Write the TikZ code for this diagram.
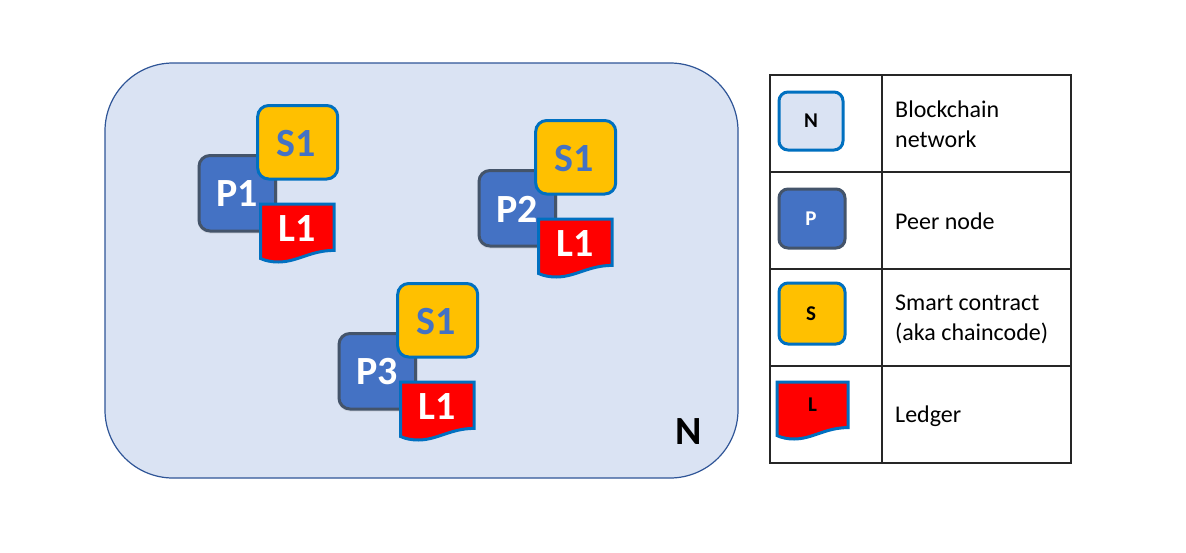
\documentclass[tikz,border=0pt]{standalone}
\usepackage{fontspec}
\setmainfont{Carlito}
\definecolor{netfill}{HTML}{DAE3F3}
\definecolor{netline}{HTML}{2F5597}
\definecolor{peerfill}{HTML}{4472C4}
\definecolor{peerline}{HTML}{44546A}
\definecolor{smart}{HTML}{FFC000}
\definecolor{bluel}{HTML}{0070C0}
\tikzset{
  x=1pt,y=-1pt,
  netbox/.style={draw=netline,fill=netfill,line width=1.2pt},
  peerbox/.style={draw=peerline,fill=peerfill,line width=3pt},
  smartbox/.style={draw=bluel,fill=smart,line width=3pt},
  ledgerbox/.style={draw=bluel,fill=red,line width=3pt,line join=miter},
  shade1/.style={draw=black!35,line width=3pt,opacity=.25},
  biglabel/.style={font=\bfseries\fontsize{40}{40}\selectfont,inner sep=0pt,anchor=center},
  smalllabel/.style={font=\bfseries\fontsize{21}{21}\selectfont,inner sep=0pt,anchor=center},
  legendtext/.style={font=\fontsize{24}{30}\selectfont,align=left,anchor=west,inner sep=0pt},
  gridline/.style={draw=black!85,line width=1.8pt},
}
\newcommand{\ledgershape}[4]{% x, y, w, h
  \begin{scope}[shift={(#1,#2)},x=#3pt,y=-#4pt]
  \path[ledgerbox] (0,0) -- (1,0) -- (1,.8)
    .. controls (.68,.8) and (.5,1) .. (.24,1)
    .. controls (.15,1) and (.07,.98) .. (0,.94)
    -- cycle;
  \end{scope}
}
\newcommand{\peergroup}[7]{% dx, dy, name, P, S, L, extra dx of S and L
  \begin{scope}[shift={(#1,#2)}]
    \draw[shade1,rounded corners=11pt] (199,157) rectangle (276,232);
    \draw[peerbox,rounded corners=11pt] (199,155.5) rectangle (275.5,231);
    \node[biglabel,text=white] (p#3) at (237,194) {#4};
    \draw[smartbox,rounded corners=11pt] (257.7+#7,105.5) rectangle (337.7+#7,179);
    \node[biglabel,text=peerfill] (s#3) at (296.5+#7,144) {#5};
    \ledgershape{260.6+#7}{204}{73.5}{58}
    \node[biglabel,text=white] (l#3) at (297+#7,228.5) {#6};
  \end{scope}
}
\begin{document}
\begin{tikzpicture}
\useasboundingbox (0,0) rectangle (1186,552);
\fill[white] (0,0) rectangle (1186,552);
\draw[netbox,rounded corners=68pt] (105,63) rectangle (738,478);
\node[font=\bfseries\fontsize{40}{40}\selectfont,inner sep=0pt] (netN) at (689,432) {N};
\peergroup{0}{0}{a}{P1}{S1}{L1}{0}
\peergroup{280}{15}{b}{P2}{S1}{L1}{-2}
\peergroup{140}{178}{c}{P3}{S1}{L1}{0}
% legend grid
\draw[gridline] (770,75) rectangle (1071,463);
\draw[gridline] (882,75) -- (882,463);
\draw[gridline] (770,172) -- (1071,172);
\draw[gridline] (770,269) -- (1071,269);
\draw[gridline] (770,366) -- (1071,366);
% legend symbols
\draw[smartbox,fill=netfill,rounded corners=9pt] (779,92) rectangle (843,150);
\node[smalllabel,text=black] (kN) at (811,121) {N};
\draw[peerbox,rounded corners=9pt] (779,189) rectangle (845,248);
\node[smalllabel,text=white] (kP) at (811,219) {P};
\draw[smartbox,rounded corners=9pt] (779,283) rectangle (845,344);
\node[smalllabel,text=black] (kS) at (811,314) {S};
\ledgershape{777}{382}{71}{57}
\node[smalllabel,text=black] (kL) at (812.5,405) {L};
% legend text
\node[legendtext] (tN) at (895,124) {Blockchain\\network};
\node[legendtext] (tP) at (895,221) {Peer node};
\node[legendtext] (tS) at (895,319) {Smart contract\\(aka chaincode)};
\node[legendtext] (tL) at (895,416) {Ledger};
\end{tikzpicture}
\end{document}
